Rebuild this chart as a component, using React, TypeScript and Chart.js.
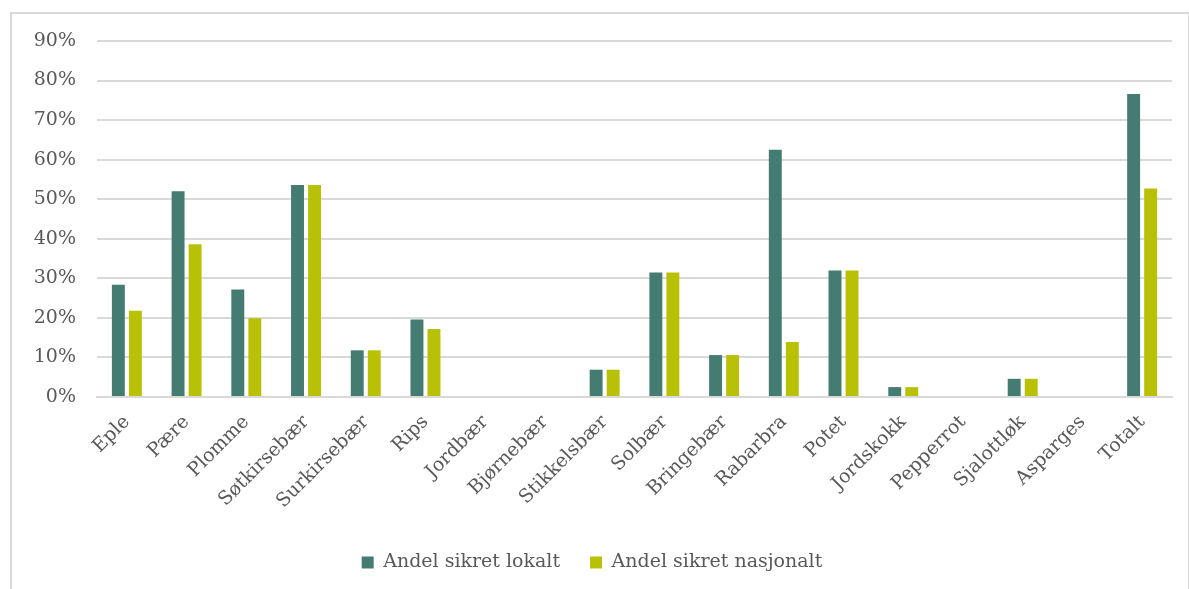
import React, { useEffect, useRef } from "react";
import { Chart, registerables } from "chart.js";

Chart.register(...registerables);

const categories = [
  "Eple", "Pære", "Plomme", "Søtkirsebær", "Surkirsebær", "Rips", "Jordbær",
  "Bjørnebær", "Stikkelsbær", "Solbær", "Bringebær", "Rabarbra", "Potet",
  "Jordskokk", "Pepperrot", "Sjalottløk", "Asparges", "Totalt",
];
const lokalt = [28.4, 52, 27.2, 53.6, 11.8, 19.6, 0, 0, 6.9, 31.5, 10.6, 62.5, 32, 2.5, 0, 4.6, 0, 76.6];
const nasjonalt = [21.8, 38.6, 19.9, 53.6, 11.8, 17.2, 0, 0, 6.9, 31.5, 10.6, 13.9, 32, 2.5, 0, 4.6, 0, 52.7];
const yTicks = [0, 10, 20, 30, 40, 50, 60, 70, 80, 90];

const FONT = "'DejaVu Serif', 'Liberation Serif', serif";
const TEXT = "#595959";

export default function App() {
  const ref = useRef<HTMLCanvasElement | null>(null);
  useEffect(() => {
    if (!ref.current) return;
    const chart = new Chart(ref.current, {
      type: "bar",
      data: {
        labels: categories,
        datasets: [
          {
            label: "Andel sikret lokalt",
            data: lokalt,
            backgroundColor: "#447c72",
            borderWidth: 0,
            categoryPercentage: 0.57,
            barPercentage: 0.76,
          },
          {
            label: "Andel sikret nasjonalt",
            data: nasjonalt,
            backgroundColor: "#b9c107",
            borderWidth: 0,
            categoryPercentage: 0.57,
            barPercentage: 0.76,
          },
        ],
      },
      options: {
        animation: false,
        responsive: false,
        maintainAspectRatio: false,
        layout: { padding: { top: 27, right: 16, bottom: 9, left: 0 } },
        plugins: {
          tooltip: { enabled: false },
          legend: {
            position: "bottom",
            labels: {
              color: TEXT,
              font: { family: FONT, size: 19 },
              boxWidth: 12,
              boxHeight: 12,
              padding: 30,
            },
          },
        },
        scales: {
          x: {
            grid: { display: false, drawTicks: false },
            border: { color: "#d9d9d9", width: 2 },
            ticks: {
              color: TEXT,
              font: { family: FONT, size: 19 },
              maxRotation: 45,
              minRotation: 45,
              padding: 14,
              autoSkip: false,
            },
            afterFit: (s: any) => { s.height = 126; s.paddingTop = 0; s.paddingBottom = 0; },
          },
          y: {
            min: 0,
            max: 90,
            afterBuildTicks: (s: any) => { s.ticks = yTicks.map((v) => ({ value: v })); },
            grid: { color: "#d9d9d9", lineWidth: 2, drawTicks: false },
            border: { display: false },
            ticks: {
              color: TEXT,
              font: { family: FONT, size: 19 },
              padding: 21,
              callback: (v: any) => v + "%",
            },
            afterFit: (s: any) => { s.width = 85; s.paddingTop = 0; s.paddingBottom = 0; },
          },
        },
      },
    });
    return () => chart.destroy();
  }, []);
  return (
    <div
      style={{
        position: "absolute",
        left: 10,
        top: 12,
        width: 1176,
        height: 577,
        border: "2px solid #d9d9d9",
        background: "#fff",
        overflow: "hidden",
      }}
    >
      <canvas ref={ref} width={1176} height={577} style={{ display: "block" }} />
    </div>
  );
}
